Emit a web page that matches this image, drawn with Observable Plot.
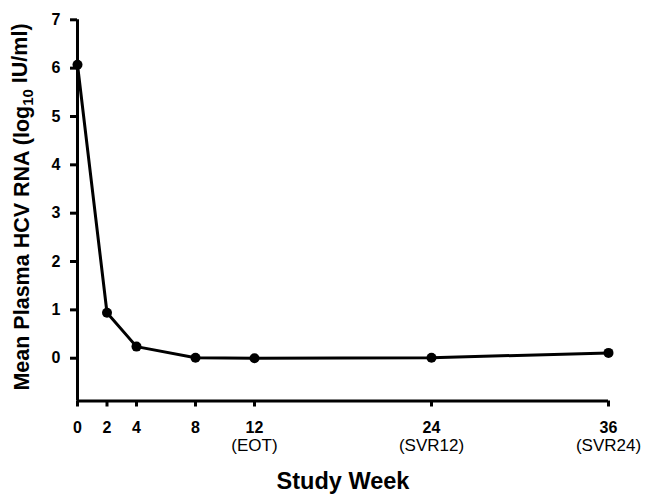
<!DOCTYPE html>
<html><head><meta charset="utf-8">
<script src="https://cdn.jsdelivr.net/npm/d3@7"></script>
<script src="https://cdn.jsdelivr.net/npm/@observablehq/plot@0.6"></script>
<style>body{margin:0;background:#fff;} svg{display:block;}</style>
</head><body><div id="chart"></div>
<script>
const weeks = [0, 2, 4, 8, 12, 24, 36];
const rna = [6.07, 0.94, 0.24, 0.01, 0.0, 0.01, 0.11];
const xTicks = [0, 2, 4, 8, 12, 24, 36];
const xSubLabels = ["", "", "", "", "(EOT)", "(SVR12)", "(SVR24)"];
const yTicks = [0, 1, 2, 3, 4, 5, 6, 7];
const yMin = -0.885, yMax = 7;
const xTitle = "Study Week";

const data = weeks.map((w, i) => ({week: w, rna: rna[i], sub: xSubLabels[i]}));
const font = "'Liberation Sans', Arial, Helvetica, sans-serif";

const chart = Plot.plot({
  width: 649, height: 494,
  marginLeft: 77, marginRight: 41, marginTop: 19.3, marginBottom: 93.5,
  style: {fontFamily: font, background: "#fff", color: "#000"},
  x: {domain: [0, 36]},
  y: {domain: [yMin, yMax]},
  marks: [
    Plot.ruleX([0], {y1: yMin, y2: yMax, stroke: "#000", strokeWidth: 3}),
    Plot.ruleY([yMin], {x1: 0, x2: 36, stroke: "#000", strokeWidth: 3}),
    Plot.axisY(yTicks, {tickSize: 7, tickPadding: 10, fontSize: 16, fontWeight: "bold", strokeWidth: 3, label: null}),
    Plot.axisX(xTicks, {tickSize: 6, tickPadding: 14.5, fontSize: 16, fontWeight: "bold", strokeWidth: 3, label: null, tickFormat: d => String(d)}),
    Plot.text(data, {x: "week", text: "sub", frameAnchor: "bottom", dy: 49.5, fontSize: 17}),
    Plot.text([xTitle], {text: d => d, frameAnchor: "bottom", dy: 87.8, fontSize: 23.5, fontWeight: "bold"}),
    Plot.line(data, {x: "week", y: "rna", stroke: "#000", strokeWidth: 3}),
    Plot.dot(data, {x: "week", y: "rna", r: 5, fill: "#000"})
  ]
});

const yl = d3.select(chart).append("text")
  .attr("transform", "translate(28.5,207) rotate(-90)")
  .attr("text-anchor", "middle")
  .attr("font-family", font)
  .attr("font-size", 21.5)
  .attr("font-weight", "bold")
  .attr("fill", "#000");
yl.append("tspan").text("Mean Plasma HCV RNA (log");
yl.append("tspan").attr("font-size", 15).attr("dy", "0.3em").text("10");
yl.append("tspan").attr("dy", "-0.3em").text(" IU/ml)");

document.getElementById("chart").appendChild(chart);
</script>
</body></html>
